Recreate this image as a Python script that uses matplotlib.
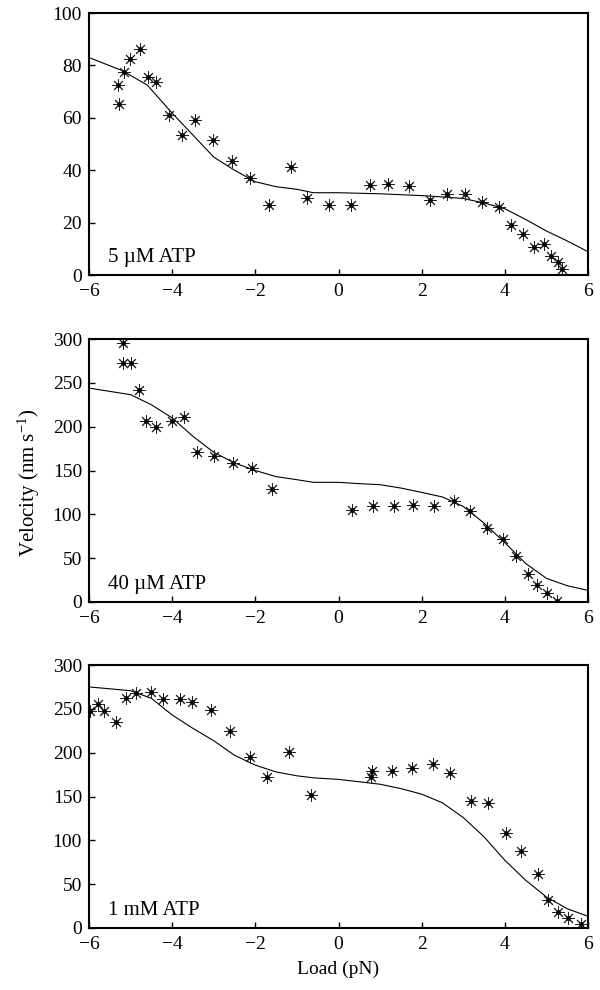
import matplotlib
matplotlib.use('Agg')
import matplotlib.pyplot as plt

plt.rcParams['font.family'] = ['Liberation Serif', 'DejaVu Serif']
plt.rcParams['mathtext.fontset'] = 'custom'
plt.rcParams['mathtext.rm'] = 'Liberation Serif'
plt.rcParams['mathtext.it'] = 'Liberation Serif:italic'

# 5 uM ATP
x_5um = [-5.30, -5.28, -5.16, -5.02, -4.78, -4.59, -4.39, -4.07, -3.77, -3.45,
         -3.03, -2.57, -2.14, -1.67, -1.15, -0.76, -0.22, 0.30, 0.75, 1.20,
         1.69, 2.21, 2.61, 3.05, 3.46, 3.87, 4.14, 4.44, 4.70, 4.94,
         5.12, 5.28, 5.38]
y_5um = [72.5, 65.3, 77.6, 82.3, 86.1, 75.7, 73.8, 61.1, 53.4, 59.2,
         51.5, 43.6, 36.9, 26.7, 41.3, 29.3, 26.7, 26.7, 34.4, 34.7,
         34.0, 28.6, 30.9, 30.9, 27.7, 25.8, 19.1, 15.5, 10.6, 11.7,
         7.3, 4.8, 2.2]
fit_x_5um = [-6.0, -5.2, -4.6, -4.0, -3.5, -3.0, -2.5, -2.0, -1.5, -1.0, -0.6,
             0.0, 1.0, 2.0, 2.5, 3.0, 3.5, 4.0, 4.5, 5.0, 5.5, 6.0]
fit_y_5um = [83.0, 78.0, 72.5, 61.8, 53.4, 45.0, 40.0, 35.6, 33.7, 32.7, 31.4,
             31.4, 31.0, 30.3, 29.8, 29.2, 27.5, 25.3, 21.2, 16.8, 13.0, 8.9]

# 40 uM ATP
x_40um = [-5.18, -5.18, -4.98, -4.80, -4.63, -4.38, -4.00, -3.72, -3.40, -3.00,
          -2.53, -2.07, -1.59, 0.32, 0.83, 1.33, 1.79, 2.29, 2.77, 3.17,
          3.56, 3.96, 4.28, 4.56, 4.78, 5.02, 5.25]
y_40um = [296, 273, 273, 242, 207, 200, 207, 211, 171, 167,
          159, 153, 129, 105, 110, 110, 111, 109, 115, 104,
          84, 72, 53, 32, 19, 10, 1]
fit_x_40um = [-6.0, -5.0, -4.5, -4.0, -3.5, -3.0, -2.5, -2.0, -1.5, -1.0, -0.6,
              0.0, 0.5, 1.0, 1.5, 2.0, 2.5, 3.0, 3.5, 4.0, 4.5, 5.0, 5.5, 6.0]
fit_y_40um = [244, 236.5, 225, 210, 189, 170.7, 158.6, 150, 143, 139.5, 136.5,
              136.5, 135, 133.8, 130, 125, 119.8, 109, 90, 67.6, 44, 27, 18.6, 13.2]

# 1 mM ATP
x_1mm = [-5.98, -5.78, -5.64, -5.36, -5.10, -4.86, -4.52, -4.22, -3.82, -3.52,
         -3.06, -2.62, -2.12, -1.71, -1.20, -0.67, 0.79, 0.80, 1.28, 1.76,
         2.27, 2.69, 3.18, 3.59, 4.03, 4.38, 4.79, 5.03, 5.29, 5.51, 5.83]
y_1mm = [247, 255, 247, 235, 262, 268, 269, 261, 261, 258,
         249, 225, 195, 172, 201, 152, 172, 179, 179, 183,
         187, 177, 145, 143, 108, 88, 62, 32, 18, 11, 5]
fit_x_1mm = [-6.0, -5.0, -4.5, -4.0, -3.5, -3.0, -2.5, -2.0, -1.5, -1.0, -0.6,
             0.0, 0.5, 1.0, 1.5, 2.0, 2.5, 3.0, 3.5, 4.0, 4.5, 5.0, 5.5, 6.0]
fit_y_1mm = [275, 270.7, 262, 243, 227.7, 213.6, 197, 185.8, 178, 173.6, 171.3,
             169.5, 166.8, 164, 159, 152.7, 142.8, 126, 104, 77.3, 54.5, 35.4, 22, 13.4]

panels = [
    (x_5um, y_5um, fit_x_5um, fit_y_5um, '5 µM ATP', 100, [0, 20, 40, 60, 80, 100]),
    (x_40um, y_40um, fit_x_40um, fit_y_40um, '40 µM ATP', 300, [0, 50, 100, 150, 200, 250, 300]),
    (x_1mm, y_1mm, fit_x_1mm, fit_y_1mm, '1 mM ATP', 300, [0, 50, 100, 150, 200, 250, 300]),
]

# posiciones de los ejes en pixeles (top, bottom)
filas = [(13, 275), (339, 602), (665, 928)]
H = 990.0
W = 600.0

fig = plt.figure(figsize=(6, 9.9), dpi=100)

asterisco = (8, 2, 0)

for (xd, yd, fx, fy, etiqueta, ymax, yticks), (top, bot) in zip(panels, filas):
    ax = fig.add_axes([89 / W, 1 - bot / H, (588 - 89) / W, (bot - top) / H])
    ax.plot(fx, fy, color='black', linewidth=0.8)
    ax.plot(xd, yd, linestyle='none', marker=asterisco, markersize=9,
            markeredgecolor='#222222', markeredgewidth=0.7, color='black')
    ax.plot(xd, yd, linestyle='none', marker='o', markersize=2.4, color='black')
    ax.set_xlim(-6, 6)
    ax.set_ylim(0, ymax)
    ax.set_xticks([-6, -4, -2, 0, 2, 4, 6])
    ax.set_xticklabels(['\u22126', '\u22124', '\u22122', '0', '2', '4', '6'])
    ax.set_yticks(yticks)
    ax.tick_params(direction='in', length=4, width=1, labelsize=14, top=False, right=False)
    ax.tick_params(axis='x', pad=6)
    ax.tick_params(axis='y', pad=5)
    for s in ax.spines.values():
        s.set_linewidth(1.5)
    ax.text(0.038, 0.065, etiqueta, transform=ax.transAxes, fontsize=15,
            ha='left', va='center')
    ultimo = ax

ultimo.set_xlabel('Load (pN)', fontsize=14, labelpad=5)
fig.text(29 / W, 1 - 483 / H, 'Velocity (nm s$^{-1}$)', rotation=90,
         fontsize=15, ha='center', va='center')

fig.savefig('out.png', dpi=100)
